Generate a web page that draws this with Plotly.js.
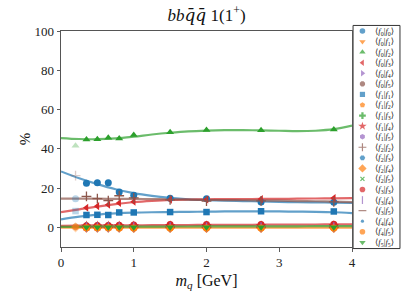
<!DOCTYPE html>
<html><head><meta charset="utf-8">
<script src="https://cdn.plot.ly/plotly-3.0.1.min.js"></script>
<style>html,body{margin:0;padding:0;background:#fff}#chart{width:415px;height:303px}</style>
</head><body><div id="chart"></div>
<script>
// ---- data ----
const xPoints = [0.35, 0.5, 0.65, 0.8, 1.0, 1.5, 2.0, 2.75, 3.75];
const xFaded = [0.2];
const xCurve = [0, 0.25, 0.5, 0.75, 1.0, 1.25, 1.5, 1.75, 2.0, 2.25, 2.5, 2.75, 3.0, 3.25, 3.5, 3.75, 4.0];

const labelPairs = [[0,0],[0,1],[0,2],[0,3],[0,4],[0,5],[1,1],[1,2],[1,3],[1,4],[1,5],[2,2],[2,3],[2,4],[2,5],[3,3],[3,4],[3,5],[4,4],[4,5],[5,5]];

const f0f0 = [22.5, 22.7, 22.7, 18.0, 16.4, 14.8, 14.6, 12.9, 12.8];
const f0f1 = [-0.3, -0.3, -0.4, -0.3, -0.4, -0.4, -0.4, -0.5, -0.5];
const f0f2 = [44.7, 44.9, 45.6, 45.3, 47.1, 48.4, 49.6, 49.5, 49.8];
const f0f3 = [10.0, 10.8, 11.5, 12.4, 13.1, 14.1, 14.2, 14.4, 14.9];
const f0f4 = [0.1, 0.1, 0.1, 0.1, 0.1, 0.1, 0.1, 0.1, 0.1];
const f0f5 = [0.3, 0.3, 0.3, 0.4, 0.4, 0.4, 0.4, 0.4, 0.4];
const f1f1 = [6.3, 6.4, 6.3, 7.6, 7.6, 7.8, 7.8, 8.2, 8.1];
const f1f2 = [0.2, 0.2, 0.2, 0.2, 0.2, 0.2, 0.1, 0.1, 0.1];
const f1f3 = [0.4, 0.4, 0.4, 0.5, 0.5, 0.5, 0.5, 0.6, 0.6];
const f1f4 = [0.6, 0.6, 0.7, 0.7, 0.7, 0.8, 0.8, 0.8, 0.8];
const f1f5 = [0.1, 0.1, 0.1, 0.1, 0.1, 0.1, 0.1, 0.1, 0.1];
const f2f2 = [15.8, 14.6, 13.6, 16.1, 15.0, 14.0, 13.4, 13.5, 13.0];
const f2f3 = [0.1, 0.1, 0.1, 0.1, 0.1, 0.1, 0.1, 0.1, 0.1];
const f2f4 = [-0.1, -0.1, -0.1, -0.1, -0.2, -0.2, -0.2, -0.2, -0.2];
const f2f5 = [0.3, 0.3, 0.3, 0.3, 0.3, 0.3, 0.3, 0.3, 0.3];
const f3f3 = [0.8, 0.9, 1.0, 1.1, 1.2, 1.4, 1.5, 1.5, 1.6];
const f3f4 = [0.05, 0.05, 0.05, 0.05, 0.05, 0.05, 0.05, 0.05, 0.05];
const f3f5 = [0.1, 0.1, 0.1, 0.1, 0.1, 0.1, 0.1, 0.1, 0.1];
const f4f4 = [0.0, 0.0, 0.0, 0.0, 0.0, 0.0, 0.0, 0.0, 0.0];
const f4f5 = [-0.2, -0.2, -0.2, -0.3, -0.3, -0.3, -0.3, -0.3, -0.3];
const f5f5 = [0.0, 0.0, 0.0, 0.0, 0.0, 0.0, 0.0, 0.0, 0.0];
const pointSeries = [f0f0,f0f1,f0f2,f0f3,f0f4,f0f5,f1f1,f1f2,f1f3,f1f4,f1f5,f2f2,f2f3,f2f4,f2f5,f3f3,f3f4,f3f5,f4f4,f4f5,f5f5];

// faded (excluded) points at m_q = 0.2, null where none is visible
const fadedValues = [14.6, -0.2, 41.5, null, null, 0.3, 8.3, 0.3, null, null, null, 26.4, null, 0.0, null, null, null, null, null, 0.2, null];

// fitted curves
const curveF0f0 = [28.5, 25.0, 22.0, 19.4, 17.4, 16.0, 15.0, 14.3, 13.9, 13.6, 13.4, 13.2, 13.0, 12.8, 12.7, 12.6, 12.4];
const curveF0f2 = [45.5, 45.0, 44.9, 45.3, 46.2, 47.3, 48.2, 48.9, 49.3, 49.5, 49.5, 49.4, 49.2, 49.0, 49.2, 50.0, 51.8];
const curveF0f3 = [7.8, 9.2, 10.6, 11.8, 12.8, 13.5, 14.0, 14.2, 14.3, 14.4, 14.4, 14.5, 14.5, 14.6, 14.7, 14.8, 14.9];
const curveF1f1 = [4.1, 5.5, 6.5, 7.1, 7.5, 7.7, 7.8, 7.9, 8.0, 8.1, 8.1, 8.1, 8.1, 8.0, 7.9, 7.7, 7.3];
const curveF2f2 = [14.6, 14.6, 14.6, 14.5, 14.5, 14.4, 14.3, 14.1, 14.0, 13.9, 13.8, 13.7, 13.6, 13.4, 13.3, 13.1, 12.9];
const curveF4f5 = [-0.1, -0.1, -0.1, -0.1, -0.1, -0.1, -0.1, -0.1, -0.1, -0.1, -0.1, -0.1, -0.1, -0.1, -0.1, -0.1, -0.1];
const curveF1f3 = [0.3, 0.3, 0.35, 0.35, 0.4, 0.4, 0.45, 0.45, 0.5, 0.5, 0.5, 0.55, 0.55, 0.55, 0.6, 0.6, 0.6];
const curveF3f3 = [0.8, 0.85, 0.9, 1.0, 1.05, 1.1, 1.15, 1.2, 1.25, 1.3, 1.3, 1.35, 1.4, 1.4, 1.45, 1.5, 1.5];
const curveSeries = [[19, curveF4f5], [15, curveF3f3], [8, curveF1f3], [0, curveF0f0], [2, curveF0f2], [3, curveF0f3], [6, curveF1f1], [11, curveF2f2]];

// ---- styles ----
const palette = ['#1f77b4', '#ff7f0e', '#2ca02c', '#d62728', '#9467bd', '#8c564b'];
const symbols = ['circle','triangle-down','triangle-up','triangle-left','triangle-right','octagon','square','pentagon','cross','star','hexagon','cross-thin','hexagon2','diamond','x-thin','circle','line-ns','line-ew','circle','circle','triangle-down'];
const sizes = [7,7,7,7,7,7,6.5,7,7,8,7,7,7,8,5,7,7,7,4,7,7];
const openSym = s => s.endsWith('-thin') || s.startsWith('line-');
const colorOf = i => palette[i % 6];

const traces = [];
// curves
curveSeries.forEach(([i, ys]) => {
  traces.push({x: xCurve, y: ys, type: 'scatter', mode: 'lines', line: {color: colorOf(i), width: 2.2, shape: 'spline', smoothing: 1}, opacity: 0.7, hoverinfo: 'skip', showlegend: false});
});
function mk(i, sz) {
  const c = colorOf(i), o = openSym(symbols[i]);
  return {symbol: symbols[i], size: sz, color: c, line: {color: c, width: o ? 1.3 : 0}};
}
// faded points
pointSeries.forEach((ys, i) => {
  if (fadedValues[i] === null) return;
  traces.push({x: xFaded, y: [fadedValues[i]], type: 'scatter', mode: 'markers', marker: mk(i, sizes[i]), opacity: 0.3, showlegend: false, hoverinfo: 'skip'});
});
// main points
pointSeries.forEach((ys, i) => {
  traces.push({x: xPoints, y: ys, type: 'scatter', mode: 'markers', marker: mk(i, sizes[i]), showlegend: false});
});
// custom legend on its own axes
const legendIdx = labelPairs.map((p, i) => i);
traces.push({
  x: legendIdx.map(() => 0.2), y: legendIdx, xaxis: 'x2', yaxis: 'y2', type: 'scatter', mode: 'markers', showlegend: false, hoverinfo: 'skip',
  marker: {symbol: symbols, size: sizes.map(s => s * 0.8), color: legendIdx.map(colorOf),
           line: {color: legendIdx.map(colorOf), width: symbols.map(s => openSym(s) ? 1.2 : 0)}}
});

const labelText = p => '⟨<i>f</i><sub>' + p[0] + '</sub>|<i>f</i><sub>' + p[1] + '</sub>⟩';
const annotations = labelPairs.map((p, i) => ({
  xref: 'x2', yref: 'y2', x: 0.42, y: i, text: labelText(p), showarrow: false, xanchor: 'left', yanchor: 'middle',
  font: {family: 'Liberation Serif, DejaVu Serif, serif', size: 8.5, color: '#222'}
}));

const font = 'Liberation Serif, DejaVu Serif, serif';
const qbar = '<span style="font-family:DejaVu Serif">q̄</span>';
const layout = {
  width: 415, height: 303,
  margin: {l: 61, r: 14, t: 25, b: 54, pad: 0},
  paper_bgcolor: '#fff', plot_bgcolor: '#fff',
  font: {family: font, color: '#222'},
  showlegend: false,
  title: {text: '<i>bb' + qbar + qbar + '</i> 1(1<sup>+</sup>)', font: {family: font, size: 17, color: '#111'}, x: 0.428, xanchor: 'center', xref: 'paper', y: 0.95, yanchor: 'middle', yref: 'container'},
  xaxis: {domain: [0, 0.85588], range: [0, 4], tickvals: [0, 1, 2, 3, 4], ticks: 'outside', ticklen: 3.5, tickwidth: 0.8, tickcolor: '#333',
          showline: true, linecolor: '#555', linewidth: 1, mirror: true, showgrid: false, zeroline: false,
          tickfont: {family: font, size: 13, color: '#222'},
          title: {text: '<i>m<sub>q</sub></i> [GeV]', font: {family: font, size: 16, color: '#111'}, standoff: 5}},
  yaxis: {domain: [0.0089, 0.9732], range: [-10, 100], tickvals: [0, 20, 40, 60, 80, 100], ticks: 'outside', ticklen: 3.5, tickwidth: 0.8, tickcolor: '#333',
          showline: true, linecolor: '#555', linewidth: 1, mirror: true, showgrid: false, zeroline: false,
          tickfont: {family: font, size: 13, color: '#222'},
          title: {text: '%', font: {family: font, size: 15, color: '#111'}, standoff: 0}},
  xaxis2: {domain: [0.859, 0.997], range: [0, 1], anchor: 'y2', visible: false, fixedrange: true},
  yaxis2: {domain: [0, 1], range: [20.63, -0.57], anchor: 'x2', visible: false, fixedrange: true},
  shapes: [{type: 'rect', xref: 'paper', yref: 'paper', x0: 0.859, x1: 0.997, y0: 0.002, y1: 0.998, line: {color: '#333', width: 1}, fillcolor: 'rgba(255,255,255,0.9)', layer: 'below'}],
  annotations: annotations
};
Plotly.newPlot('chart', traces, layout, {staticPlot: true, displayModeBar: false});
</script></body></html>
